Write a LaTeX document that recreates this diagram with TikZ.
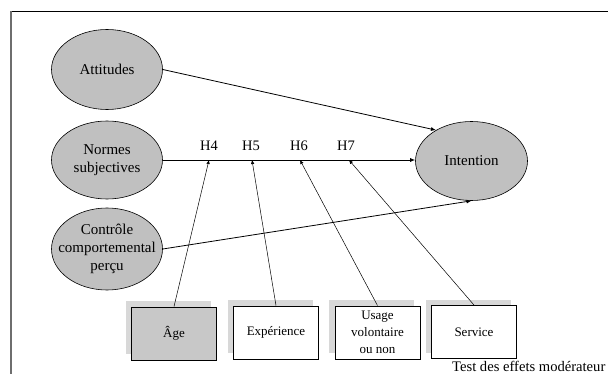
\documentclass[tikz,border=0pt]{standalone}
\usepackage{fontspec}
\setmainfont{Liberation Serif}
\usetikzlibrary{arrows.meta,shapes.geometric}
\definecolor{ellgrey}{RGB}{192,192,192}
\definecolor{agegrey}{RGB}{200,200,200}
\definecolor{shadowgrey}{RGB}{216,216,216}
\definecolor{framegrey}{RGB}{110,110,110}
\begin{document}
\begin{tikzpicture}[x=1pt,y=-1pt,
 every node/.style={font=\fontsize{14.5}{18}\selectfont},
 construct/.style={ellipse, draw=black, line width=0.6pt, fill=ellgrey, minimum width=111pt, minimum height=80pt, inner sep=0pt},
 ctext/.style={align=center, inner sep=0pt, font=\fontsize{15}{18}\selectfont},
 modbox/.style={rectangle, draw=black, line width=0.9pt, minimum width=85pt, minimum height=53pt, inner sep=0pt, align=center, fill=white, font=\fontsize{13}{16.7}\selectfont},
 shadowbox/.style={rectangle, fill=shadowgrey, minimum width=85pt, minimum height=53pt, inner sep=0pt},
 mainarrow/.style={line width=0.8pt, -{Latex[length=5pt,width=4pt]}},
 modline/.style={line width=0.5pt, -{Latex[length=4pt,width=3.5pt]}},
]
\useasboundingbox (0,0) rectangle (608,374);
% frame
\draw[line width=1.2pt] (11,11.5) -- (608,11.5);
\draw[line width=1.6pt, framegrey] (11,11.5) -- (11,374);
% constructs
\node[construct] (att) at (107,69.5) {};
\node[ctext] (att-t) at (att.center) {Attitudes};
\node[construct, minimum height=78pt] (norm) at (107,160) {};
\node[ctext] (norm-t) at (norm.center) {Normes\\subjectives};
\node[construct, minimum height=82pt] (ctrl) at (107,249) {};
\node[ctext] (ctrl-t) at (ctrl.center) {Contrôle\\comportemental\\perçu};
\node[construct, minimum width=112pt, minimum height=79pt] (int) at (471.5,161) {};
\node[ctext] (int-t) at (int.center) {Intention};
% moderator boxes
\node[shadowbox] (age-s) at (168,327.5) {};
\node[modbox, fill=agegrey] (age) at (174,333.5) {Âge};
\node[shadowbox] (exp-s) at (270,326.5) {};
\node[modbox] (exp) at (276,332.5) {Expérience};
\node[shadowbox] (usa-s) at (371.5,326.5) {};
\node[modbox] (usa) at (377.5,332.5) {Usage\\volontaire\\ou non};
\node[shadowbox] (ser-s) at (468.5,326) {};
\node[modbox] (ser) at (474,332) {Service};
% points on path
\coordinate (h4) at (209,160);
\coordinate (h5) at (252,160);
\coordinate (h6) at (300,160);
\coordinate (h7) at (349,160);
\node (lh4) at (209,146) {H4};
\node (lh5) at (251,146) {H5};
\node (lh6) at (299,146) {H6};
\node (lh7) at (346,146) {H7};
% main arrows
\draw[mainarrow] (att.east) -- (int.139);
\draw[mainarrow] (norm.east) -- (norm.east -| int.west);
\draw[mainarrow] (ctrl.east) -- (int.south);
% moderator lines
\draw[modline] (age.north) -- (h4);
\draw[modline] (exp.north) -- (h5);
\draw[modline] (usa.north) -- (h6);
\draw[modline] (ser.north) -- (h7);
\node[anchor=base west, inner sep=0pt, font=\fontsize{14.6}{18}\selectfont] (test) at (452,371.5) {Test des effets modérateur};
\end{tikzpicture}
\end{document}
